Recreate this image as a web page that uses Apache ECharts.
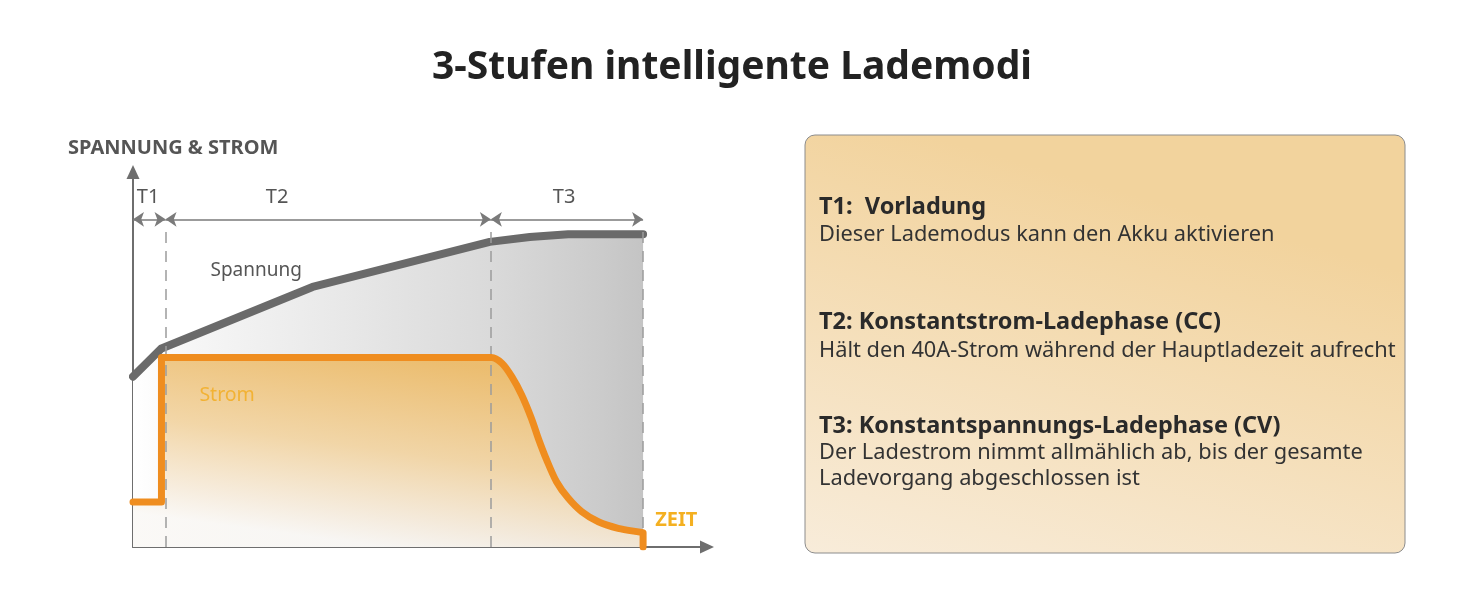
<!DOCTYPE html>
<html><head><meta charset="utf-8">
<script src="https://cdn.jsdelivr.net/npm/echarts@6/dist/echarts.min.js"></script>
<style>html,body{margin:0;padding:0;background:#fff}#c{width:1464px;height:600px}</style>
</head><body><div id="c"></div>
<script>
// ---- data ----
const phaseBounds = [0, 5.6, 61.6, 87.8];
const phaseLabels = ['T1', 'T2', 'T3'];
const voltageTime  = [0, 4.9, 30.9, 61.4, 68.3, 74.9, 87.8];
const voltageLevel = [44.6, 52.0, 68.1, 79.9, 81.2, 81.9, 81.9];
const currentTime  = [0, 4.9, 4.9, 4.9, 4.9, 61.7, 63.5, 65.2, 66.9, 68.6, 69.8, 71.2, 72.9, 74.9, 77.2, 80.1, 83.5, 87.6, 87.8, 87.8];
const currentLevel = [11.8, 11.8, 12.6, 48.7, 49.6, 49.6, 48.1, 44.6, 39.8, 33.6, 28.3, 22.8, 17.1, 12.8, 9.3, 6.6, 4.9, 3.8, 3.7, 0];
const curveNames = ['Spannung', 'Strom'];
const axisNames = ['SPANNUNG & STROM', 'ZEIT'];
const chartTitle = '3-Stufen intelligente Lademodi';
const panelTitles = ['T1:  Vorladung', 'T2: Konstantstrom-Ladephase (CC)', 'T3: Konstantspannungs-Ladephase (CV)'];
const panelTexts = [
  ['Dieser Lademodus kann den Akku aktivieren'],
  ['Hält den 40A-Strom während der Hauptladezeit aufrecht'],
  ['Der Ladestrom nimmt allmählich ab, bis der gesamte', 'Ladevorgang abgeschlossen ist']
];

// ---- build ----
const FONT = '"Noto Sans", "DejaVu Sans", sans-serif';
const zip = (a, b) => a.map((v, i) => [v, b[i]]);
const voltage = zip(voltageTime, voltageLevel);
const current = zip(currentTime, currentLevel);
const arrowLevel = 85.8, dashTop = 83.8, phaseLabelLevel = 91.6;
const phaseLabelX = [2.6, 24.8, 74.2];
const CURVE_SMOOTH = 0.3;

const dashLines = phaseBounds.slice(1).map(x => [
  { coord: [x, 0], symbol: 'none', lineStyle: { type: [11, 8], color: '#9c9c9c', width: 1.5 }, label: { show: false } },
  { coord: [x, dashTop], symbol: 'none' }
]);
const arrowLines = phaseLabels.map((t, i) => [
  { coord: [phaseBounds[i], arrowLevel], symbol: 'arrow', symbolSize: 11,
    lineStyle: { type: 'solid', color: '#7a7a7a', width: 1.5 }, label: { show: false } },
  { coord: [phaseBounds[i + 1], arrowLevel], symbol: 'arrow', symbolSize: 11 }
]);
const txt = (coord, text, color, size, weight) => ({
  coord, label: { show: true, position: 'inside', formatter: text, color, fontSize: size,
    fontWeight: weight || 'normal', fontFamily: FONT }
});

const G = echarts.graphic;
const headY = [207, 322, 426];
const bodyY = [235, 351, 453];
const panel = [{
  type: 'rect', z: 0,
  shape: { x: 805, y: 135, width: 600, height: 418, r: 10 },
  style: {
    fill: new G.LinearGradient(0.2, 0, 0, 1, [
      { offset: 0, color: '#f2d39d' }, { offset: 1, color: '#f8ecda' }
    ]),
    stroke: '#8c8c8c', lineWidth: 1
  }
}];
panelTitles.forEach((t, i) => {
  panel.push({ type: 'text', x: 819, y: headY[i], z: 1,
    style: { text: t, font: 'bold 23.5px ' + FONT, fill: '#2a2a2a', verticalAlign: 'middle' } });
  panelTexts[i].forEach((line, j) => {
    panel.push({ type: 'text', x: 819, y: bodyY[i] + j * 26, z: 1,
      style: { text: line, font: '21.8px ' + FONT, fill: '#333', verticalAlign: 'middle' } });
  });
});

const option = {
  backgroundColor: '#fff',
  animation: false,
  title: [
    { text: chartTitle, left: 'center', top: 45, padding: 0,
      textStyle: { fontFamily: FONT, fontSize: 39, fontWeight: 'bold', color: '#222', lineHeight: 46 } },
    { text: axisNames[0], left: 68, top: 136, padding: 0,
      textStyle: { fontFamily: FONT, fontSize: 20, fontWeight: 'bold', color: '#555', lineHeight: 24 } }
  ],
  grid: { left: 133, top: 172, width: 574, height: 375 },
  xAxis: {
    type: 'value', min: 0, max: 98.8,
    axisLine: { show: true, symbol: ['none', 'triangle'], symbolSize: [13, 14],
      lineStyle: { color: '#6e6e6e', width: 2 } },
    axisTick: { show: false }, axisLabel: { show: false }, splitLine: { show: false }
  },
  yAxis: {
    type: 'value', min: 0, max: 98.2,
    axisLine: { show: true, symbol: ['none', 'triangle'], symbolSize: [13, 14],
      lineStyle: { color: '#6e6e6e', width: 2 } },
    axisTick: { show: false }, axisLabel: { show: false }, splitLine: { show: false }
  },
  graphic: panel,
  series: [
    { // voltage area
      type: 'line', z: 1, silent: true, data: voltage, symbol: 'none',
      lineStyle: { width: 0 },
      areaStyle: { opacity: 1, color: new G.LinearGradient(0, 0, 1, 0, [
        { offset: 0, color: '#ffffff' }, { offset: 0.12, color: '#f6f6f6' },
        { offset: 0.33, color: '#ececec' }, { offset: 0.7, color: '#dadada' },
        { offset: 0.92, color: '#cbcbcb' }, { offset: 1, color: '#c4c4c4' }
      ]) }
    },
    { // current area
      type: 'line', z: 2, silent: true, data: current, symbol: 'none', smooth: CURVE_SMOOTH,
      lineStyle: { width: 0 },
      areaStyle: { opacity: 1, color: new G.LinearGradient(0.55, 0, 0.5, 1, [
        { offset: 0, color: 'rgba(236,188,108,0.97)' },
        { offset: 0.5, color: 'rgba(242,212,162,0.93)' },
        { offset: 0.85, color: 'rgba(247,236,220,0.88)' },
        { offset: 1, color: 'rgba(250,248,245,0.85)' }
      ]) }
    },
    { // guides, arrows, labels
      type: 'line', z: 3, silent: true, data: [[0, 0]], symbol: 'none', lineStyle: { width: 0 },
      markLine: { silent: true, animation: false, data: [...dashLines, ...arrowLines] },
      markPoint: {
        silent: true, symbol: 'circle', symbolSize: 1, itemStyle: { color: 'rgba(0,0,0,0)' },
        data: [
          ...phaseLabels.map((t, i) => txt([phaseLabelX[i], phaseLabelLevel], t, '#555', 20)),
          txt([21.2, 72.5], curveNames[0], '#555', 19),
          txt([16.2, 39.8], curveNames[1], '#f2b234', 19.5),
          txt([93.5, 7.1], axisNames[1], '#f4b021', 20, 'bold')
        ]
      }
    },
    { // voltage line
      name: curveNames[0], type: 'line', z: 4, data: voltage, symbol: 'none',
      lineStyle: { color: '#6a6a6a', width: 8, cap: 'round', join: 'round' }
    },
    { // current line
      name: curveNames[1], type: 'line', z: 5, data: current, symbol: 'none', smooth: CURVE_SMOOTH,
      lineStyle: { color: '#ef8d1f', width: 7, cap: 'round', join: 'round' }
    }
  ]
};
echarts.init(document.getElementById('c')).setOption(option);
</script></body></html>
